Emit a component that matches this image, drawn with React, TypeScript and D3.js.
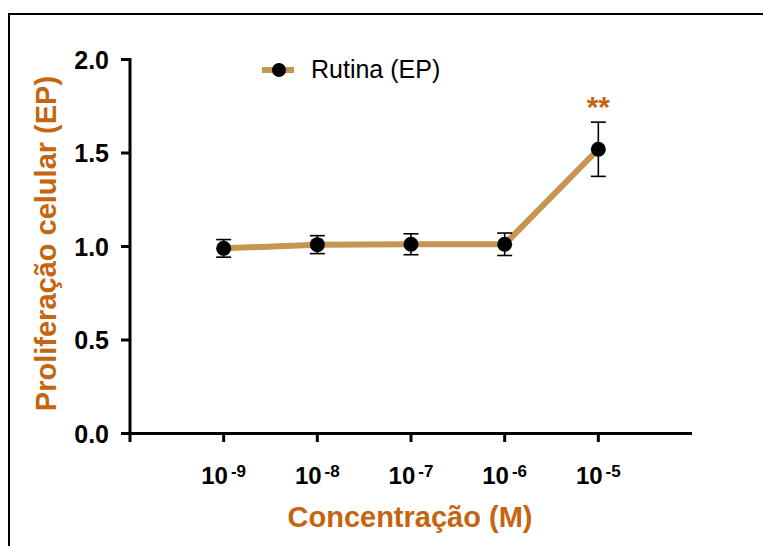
import React from "react";
import * as d3 from "d3";

// concentrações (expoente de 10) e valores médios ± EP
const concentrations = [-9, -8, -7, -6, -5];
const means = [0.99, 1.01, 1.012, 1.012, 1.52];
const errors = [0.047, 0.048, 0.056, 0.06, 0.145];
const yTicks = [0, 0.5, 1.0, 1.5, 2.0];
const significance = ["", "", "", "", "**"];

const W = 763;
const H = 546;
const FONT = "'Liberation Sans', Arial, sans-serif";
const ORANGE = "#C5650E";
const LINE = "#C6954F";

const App: React.FC = () => {
  // eixo x categórico: 6 intervalos, pontos nas posições 1..5
  const x = d3.scaleLinear().domain([-10, -4]).range([130, 692]);
  const y = d3.scaleLinear().domain([0, 2]).range([433.5, 59.5]);

  const line = d3
    .line<number>()
    .x((_, i) => x(concentrations[i]))
    .y((d) => y(d));

  return (
    <div style={{ position: "absolute", left: 0, top: 0 }}>
      <svg width={W} height={H} style={{ display: "block", background: "#fff" }}>
        {/* moldura */}
        <path d={`M9,${H} V14 H${W}`} fill="none" stroke="#000" strokeWidth={2} />

        {/* eixo y */}
        <line x1={x(-10)} x2={x(-10)} y1={y(2) - 1.5} y2={442} stroke="#000" strokeWidth={3} />
        {yTicks.map((t) => (
          <g key={t}>
            <line x1={121} x2={x(-10)} y1={y(t)} y2={y(t)} stroke="#000" strokeWidth={3} />
            <text
              x={109}
              y={y(t) + 9}
              textAnchor="end"
              fontFamily={FONT}
              fontWeight="bold"
              fontSize={25}
              fill="#000"
            >
              {t.toFixed(1)}
            </text>
          </g>
        ))}

        {/* eixo x */}
        <line x1={121} x2={692} y1={y(0)} y2={y(0)} stroke="#000" strokeWidth={3} />
        {concentrations.map((c) => (
          <g key={c}>
            <line x1={x(c)} x2={x(c)} y1={y(0)} y2={442} stroke="#000" strokeWidth={3} />
            <text
              x={x(c)}
              y={484}
              textAnchor="middle"
              fontFamily={FONT}
              fontWeight="bold"
              fontSize={24}
              fill="#000"
            >
              10
              <tspan dx={3} dy={-7} fontSize={17}>
                {c}
              </tspan>
            </text>
          </g>
        ))}

        {/* títulos */}
        <text
          x={410}
          y={527}
          textAnchor="middle"
          fontFamily={FONT}
          fontWeight="bold"
          fontSize={29}
          fill={ORANGE}
        >
          Concentração (M)
        </text>
        <text
          transform={`translate(56,243.5) rotate(-90)`}
          textAnchor="middle"
          fontFamily={FONT}
          fontWeight="bold"
          fontSize={29}
          fill={ORANGE}
        >
          Proliferação celular (EP)
        </text>

        {/* série */}
        <path d={line(means) || ""} fill="none" stroke={LINE} strokeWidth={6} />
        {means.map((m, i) => {
          const cx = x(concentrations[i]);
          return (
            <g key={i}>
              <line x1={cx} x2={cx} y1={y(m + errors[i])} y2={y(m - errors[i])} stroke="#000" strokeWidth={1.6} />
              <line x1={cx - 7.5} x2={cx + 7.5} y1={y(m + errors[i])} y2={y(m + errors[i])} stroke="#000" strokeWidth={1.6} />
              <line x1={cx - 7.5} x2={cx + 7.5} y1={y(m - errors[i])} y2={y(m - errors[i])} stroke="#000" strokeWidth={1.6} />
              <circle cx={cx} cy={y(m)} r={7.5} fill="#000" />
              {significance[i] && (
                <text
                  x={cx}
                  y={y(m + errors[i]) - 5}
                  textAnchor="middle"
                  fontFamily={FONT}
                  fontWeight="bold"
                  fontSize={30}
                  fill={ORANGE}
                >
                  {significance[i]}
                </text>
              )}
            </g>
          );
        })}

        {/* legenda */}
        <line x1={262} x2={294} y1={70} y2={70} stroke={LINE} strokeWidth={6} />
        <circle cx={279} cy={70} r={7} fill="#000" />
        <text x={311} y={78} fontFamily={FONT} fontSize={25} fill="#000">
          Rutina (EP)
        </text>
      </svg>
    </div>
  );
};

export default App;
